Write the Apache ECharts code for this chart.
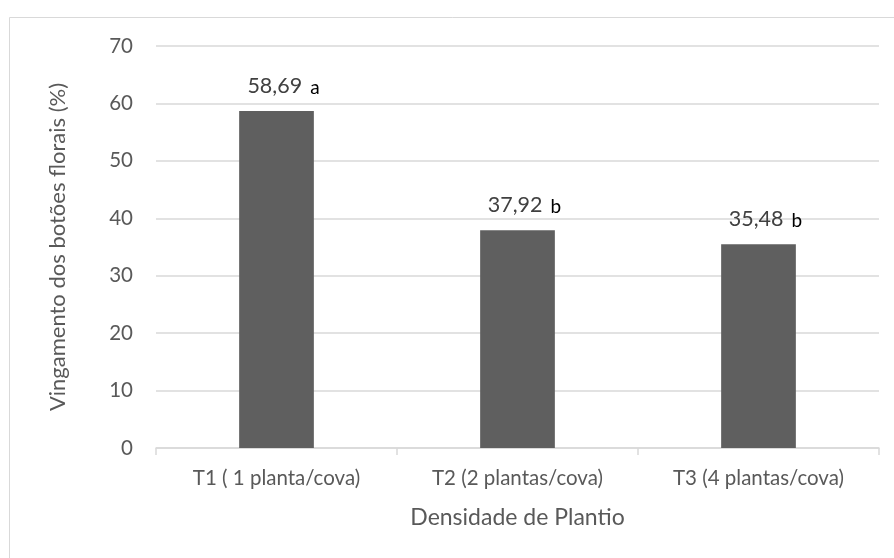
<!DOCTYPE html>
<html>
<head>
<meta charset="utf-8">
<script src="https://cdn.jsdelivr.net/npm/echarts@6/dist/echarts.min.js"></script>
<style>
  html, body { margin: 0; padding: 0; background: #fff; }
  #chart { width: 894px; height: 558px; }
</style>
</head>
<body>
<div id="chart"></div>
<script>
const categories = ['T1 ( 1 planta/cova)', 'T2 (2 plantas/cova)', 'T3 (4 plantas/cova)']
const values = [58.69, 37.92, 35.48]
const letters = ['a', 'b', 'b']
const yTicks = { min: 0, max: 70, interval: 10 }
const yTitle = 'Vingamento dos botões florais (%)'

const font = 'Lato, "Open Sans", sans-serif'
const chart = echarts.init(document.getElementById('chart'))

chart.setOption({
  backgroundColor: '#fff',
  animation: false,
  graphic: [{
    type: 'rect',
    shape: { x: 9.5, y: 17.5, width: 900, height: 600 },
    style: { fill: 'none', stroke: '#d9d9d9', lineWidth: 1 }
  }, {
    // y axis title, placed by hand so it sits where the original does
    type: 'text',
    x: 58,
    y: 247,
    rotation: Math.PI / 2,
    style: {
      text: yTitle,
      fontFamily: font,
      fontSize: 22,
      fill: '#595959',
      align: 'center',
      verticalAlign: 'middle'
    }
  }],
  grid: { left: 156, right: 15, top: 46, bottom: 110 },
  xAxis: {
    type: 'category',
    data: categories,
    name: 'Densidade de Plantio',
    nameLocation: 'middle',
    nameGap: 58,
    nameTextStyle: { fontFamily: font, fontSize: 23, color: '#595959' },
    axisLine: { lineStyle: { color: '#d9d9d9', width: 1.5 } },
    axisTick: { show: true, length: 7, lineStyle: { color: '#d9d9d9', width: 1.5 } },
    axisLabel: { fontFamily: font, fontSize: 20.5, color: '#595959', margin: 20 }
  },
  yAxis: {
    type: 'value',
    min: yTicks.min,
    max: yTicks.max,
    interval: yTicks.interval,
    axisLine: { show: false },
    axisTick: { show: false },
    axisLabel: { fontFamily: font, fontSize: 20.5, color: '#595959', margin: 23 },
    splitLine: { lineStyle: { color: '#d9d9d9', width: 1.5 } }
  },
  series: [{
    type: 'bar',
    barWidth: '31%',
    itemStyle: { color: '#5f5f5f' },
    data: values.map((v, i) => ({
      value: v,
      label: {
        show: true,
        position: 'top',
        distance: 14,
        offset: [7, 0],
        formatter: '{v|' + v.toFixed(2).replace('.', ',') + '}{l|' + letters[i] + '}',
        rich: {
          v: { fontFamily: font, fontSize: 21.5, color: '#404040', verticalAlign: 'bottom' },
          l: { fontFamily: font, fontSize: 19, color: '#000', padding: [7, 0, 0, 8], verticalAlign: 'bottom' }
        }
      }
    }))
  }]
})
</script>
</body>
</html>
